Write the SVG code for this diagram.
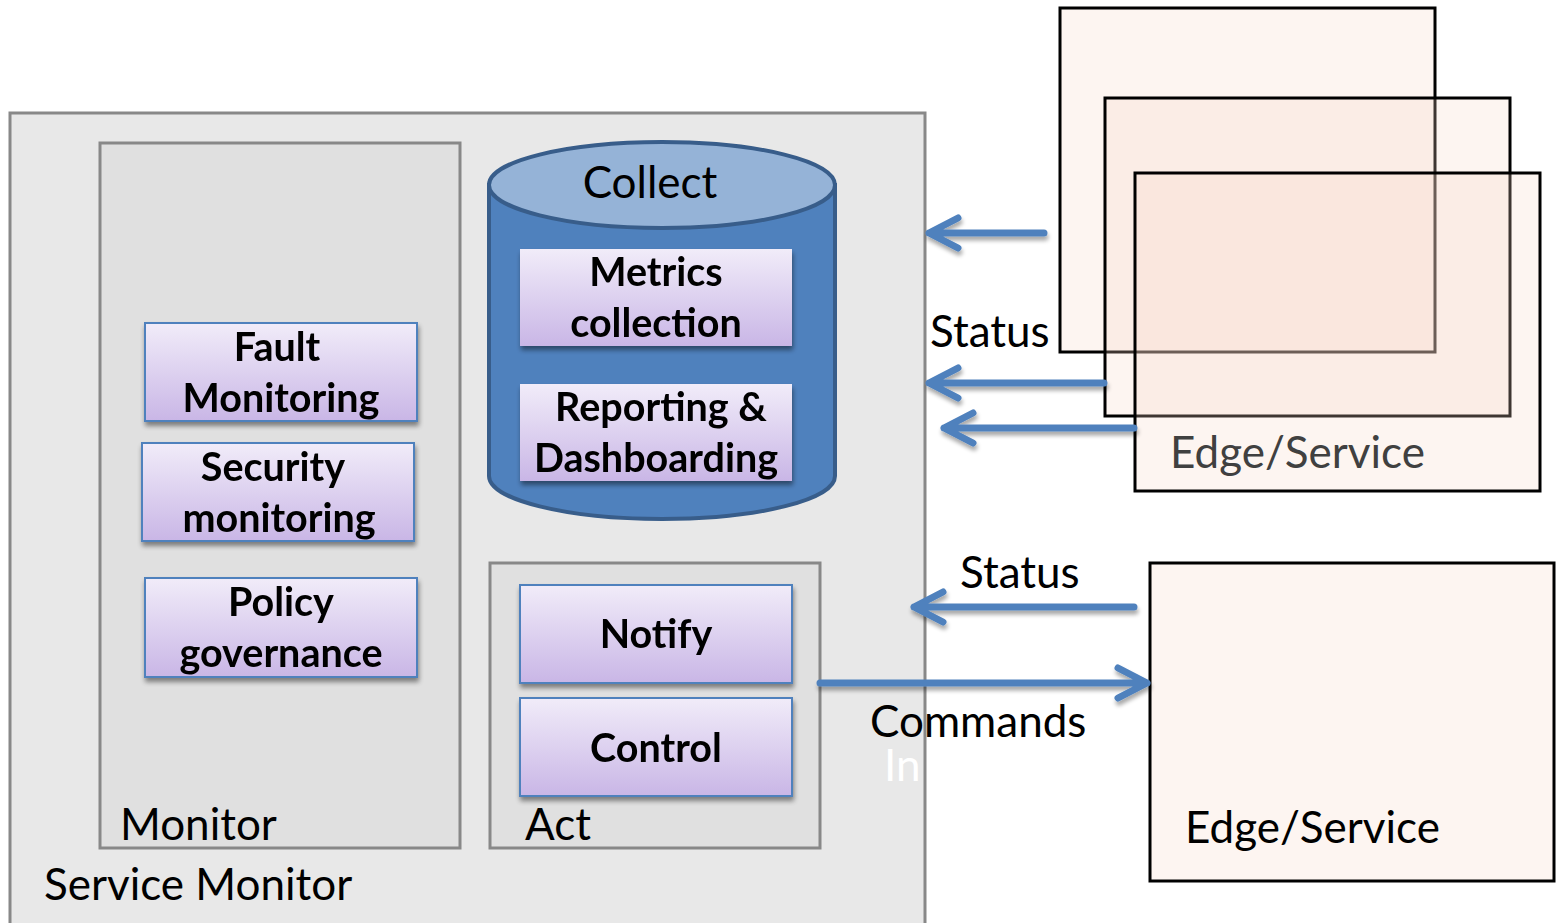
<svg xmlns="http://www.w3.org/2000/svg" width="1558" height="923" viewBox="0 0 1558 923">
<defs>
<linearGradient id="pg" x1="0" y1="0" x2="0" y2="1">
<stop offset="0" stop-color="#f1ecf9"/>
<stop offset="1" stop-color="#c9b6e6"/>
</linearGradient>
<filter id="sh" x="-10%" y="-10%" width="130%" height="140%">
<feGaussianBlur in="SourceAlpha" stdDeviation="2.5"/>
<feOffset dx="1" dy="4" result="b"/>
<feComponentTransfer><feFuncA type="linear" slope="0.45"/></feComponentTransfer>
<feMerge><feMergeNode/><feMergeNode in="SourceGraphic"/></feMerge>
</filter>
<filter id="ash" x="-10%" y="-50%" width="130%" height="250%">
<feGaussianBlur in="SourceAlpha" stdDeviation="2"/>
<feOffset dx="1" dy="4"/>
<feComponentTransfer><feFuncA type="linear" slope="0.35"/></feComponentTransfer>
<feMerge><feMergeNode/><feMergeNode in="SourceGraphic"/></feMerge>
</filter>
</defs>
<style>
.t{font-family:Lato,"Liberation Sans",sans-serif;fill:#000}
.r{font-size:44px}
.b{font-size:39.5px;font-weight:bold;text-anchor:middle}
.pb{fill:url(#pg);stroke:#4f81bd;stroke-width:2}
.grp{stroke:#888;stroke-width:3}
.edge{fill:#f9d9c8;fill-opacity:0.25;stroke:#000;stroke-width:3}
.arr{fill:none;stroke:#4f81bd;stroke-width:7;stroke-linecap:round;stroke-linejoin:round}
</style>
<rect width="1558" height="923" fill="#fff"/>

<g id="service-monitor">
<rect x="10" y="113" width="915" height="830" fill="#e8e8e8" class="grp"/>
<text class="t r" x="44" y="900">Service Monitor</text>
</g>

<g id="monitor">
<rect x="100" y="143" width="360" height="705" fill="#e0e0e0" class="grp"/>
<text class="t r" x="120" y="840">Monitor</text>
</g>

<g id="act">
<rect x="490" y="563" width="330" height="285" fill="#e0e0e0" class="grp"/>
<text class="t r" x="525" y="840">Act</text>
</g>

<g id="collect">
<path d="M489 185 L489 476 A173 43 0 0 0 835 476 L835 185 Z" fill="#4f81bd" stroke="#385d8a" stroke-width="4"/>
<ellipse cx="662" cy="185" rx="173" ry="43" fill="#95b3d7" stroke="#385d8a" stroke-width="4"/>
<text class="t r" x="650" y="198" text-anchor="middle">Collect</text>
</g>

<g id="metrics" filter="url(#sh)">
<rect x="520" y="249" width="272" height="97" class="pb" style="stroke:none"/>
<text class="t b" x="656" y="286">Metrics</text>
<text class="t b" x="656" y="337">collection</text>
</g>
<g id="reporting" filter="url(#sh)">
<rect x="520" y="384" width="272" height="97" class="pb" style="stroke:none"/>
<text class="t b" x="661" y="421">Reporting &amp;</text>
<text class="t b" x="656" y="472">Dashboarding</text>
</g>

<g id="fault" filter="url(#sh)">
<rect x="145" y="323" width="272" height="98" class="pb"/>
<text class="t b" x="277" y="361">Fault</text>
<text class="t b" x="281" y="412">Monitoring</text>
</g>
<g id="security" filter="url(#sh)">
<rect x="142" y="443" width="272" height="98" class="pb"/>
<text class="t b" x="273" y="481">Security</text>
<text class="t b" x="279" y="532">monitoring</text>
</g>
<g id="policy" filter="url(#sh)">
<rect x="145" y="578" width="272" height="99" class="pb"/>
<text class="t b" x="281" y="616">Policy</text>
<text class="t b" x="281" y="667">governance</text>
</g>
<g id="notify" filter="url(#sh)">
<rect x="520" y="585" width="272" height="98" class="pb"/>
<text class="t b" x="656" y="648">Notify</text>
</g>
<g id="control" filter="url(#sh)">
<rect x="520" y="698" width="272" height="98" class="pb"/>
<text class="t b" x="656" y="762">Control</text>
</g>

<g id="edge-stack">
<rect x="1060" y="8" width="375" height="344" class="edge"/>
<rect x="1105" y="98" width="405" height="318" class="edge"/>
<rect x="1135" y="173" width="405" height="318" class="edge"/>
<text class="t r" x="1170" y="468" style="fill:#404040">Edge/Service</text>
</g>

<g id="edge-service">
<rect x="1150" y="563" width="404" height="318" class="edge"/>
<text class="t r" x="1185" y="843">Edge/Service</text>
</g>

<g id="connectors" filter="url(#ash)">
<path class="arr" d="M1044 233 L929 233 M958 218 L929 233 L958 248"/>
<path class="arr" d="M1104 383 L929 383 M958 368 L929 383 L958 398"/>
<path class="arr" d="M1134 428 L944 428 M973 413 L944 428 L973 443"/>
<path class="arr" d="M1134 607 L914 607 M943 592 L914 607 L943 622"/>
<path class="arr" d="M820 683 L1147 683 M1118 668 L1147 683 L1118 698"/>
</g>

<g id="labels">
<text class="t r" x="930" y="347">Status</text>
<text class="t r" x="960" y="588">Status</text>
<text class="t r" x="870" y="737">Commands</text>
<text class="t r" x="884" y="781" style="fill:#fff">In</text>
</g>
</svg>
